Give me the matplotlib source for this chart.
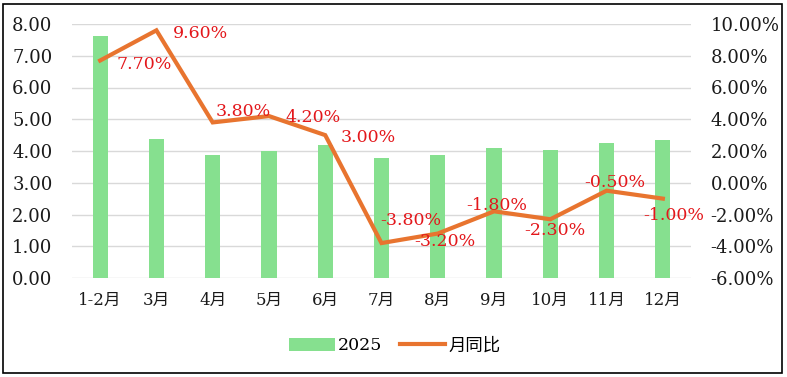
import matplotlib
matplotlib.use("Agg")
import matplotlib.pyplot as plt
from matplotlib.patches import Rectangle
import numpy as np

plt.rcParams['font.family'] = ['DejaVu Serif', 'Noto Sans CJK SC']

categories = ['1-2月', '3月', '4月', '5月', '6月', '7月', '8月', '9月', '10月', '11月', '12月']
values_2025 = [7.63, 4.38, 3.87, 4.00, 4.19, 3.78, 3.87, 4.09, 4.03, 4.25, 4.35]
mom_pct = [7.70, 9.60, 3.80, 4.20, 3.00, -3.80, -3.20, -1.80, -2.30, -0.50, -1.00]
bar_name = '2025'
line_name = '月同比'

# label offsets in points (dx, dy) relative to each line point
label_offsets = [(32, -3), (32, -2), (22, 8), (32, -1), (31, -2), (21, 16),
                 (5, -6), (2, 4), (3, -8), (6, 6), (8, -12)]

fig = plt.figure(figsize=(7.87, 3.77), dpi=100)
ax = fig.add_axes([72/787, 1-278/377, (691-72)/787, (278-24)/377])
x = np.arange(len(categories))

bar_color = '#86E08F'
line_color = '#E8742F'
ax.bar(x, values_2025, width=0.27, color=bar_color, label=bar_name, zorder=2)
ax.set_ylim(0, 8)
ax.set_yticks(np.arange(0, 8.01, 1))
ax.set_yticklabels([f'{v:.2f}' for v in np.arange(0, 8.01, 1)])
ax.set_xlim(-0.5, len(categories) - 0.5)
ax.set_xticks(x)
ax.set_xticklabels(categories)
ax.grid(axis='y', color='#D9D9D9', linewidth=1, zorder=0)
ax.set_axisbelow(True)
for s in ax.spines.values():
    s.set_visible(False)
ax.tick_params(axis='both', length=0, labelsize=13, colors='#1a1a1a')
ax.tick_params(axis='y', pad=14)
ax.tick_params(axis='x', pad=10, labelsize=12)

ax2 = ax.twinx()
ax2.plot(x, mom_pct, color=line_color, linewidth=3, label=line_name, zorder=3,
         solid_joinstyle='miter')
ax2.set_ylim(-6, 10)
ax2.set_yticks(np.arange(-6, 10.01, 2))
ax2.set_yticklabels([f'{v:.2f}%' for v in np.arange(-6, 10.01, 2)])
for s in ax2.spines.values():
    s.set_visible(False)
ax2.tick_params(axis='y', length=0, labelsize=13, colors='#1a1a1a', pad=14)

for xi, v, (dx, dy) in zip(x, mom_pct, label_offsets):
    ax2.annotate(f'{v:.2f}%', (xi, v), xytext=(dx, dy), textcoords='offset points',
                 ha='center', va='center', color='#E3171B', fontsize=12.5, zorder=4)

h1, l1 = ax.get_legend_handles_labels()
h2, l2 = ax2.get_legend_handles_labels()
fig.legend(h1 + h2, l1 + l2, loc='center', bbox_to_anchor=(395/787, 1-346/377),
           ncol=2, frameon=False, fontsize=12.5, handlelength=2.6, columnspacing=1.0,
           handletextpad=0.2)

fig.patches.append(Rectangle((3/787, 4/377), (782-3)/787, (373-4)/377, transform=fig.transFigure,
                             fill=False, edgecolor='black', linewidth=1.2))
fig.savefig('out.png', dpi=100)
